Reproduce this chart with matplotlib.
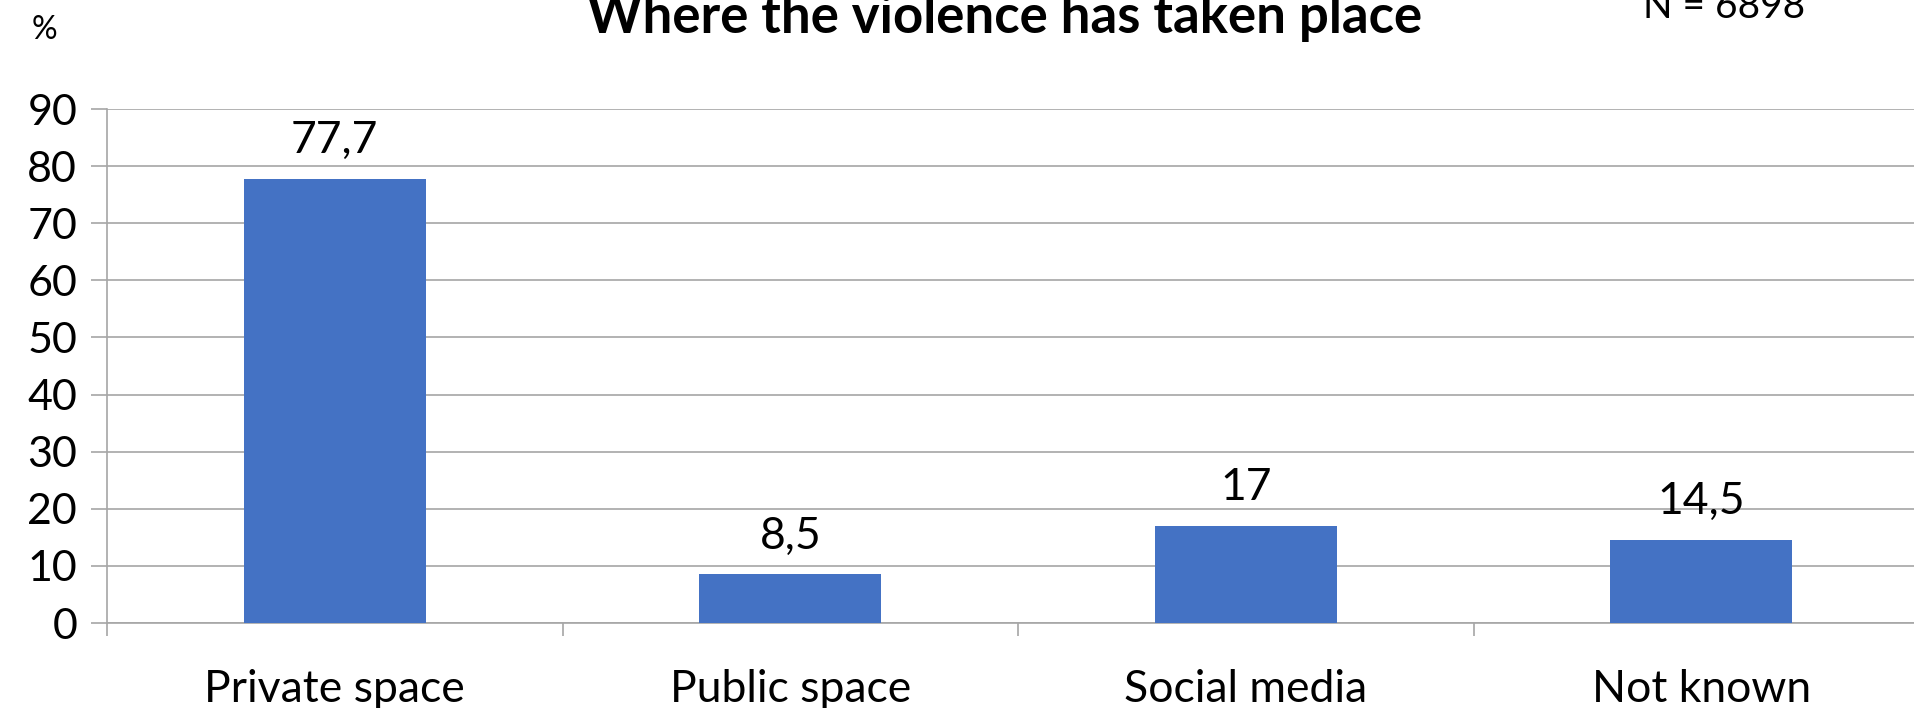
import matplotlib.pyplot as plt
import numpy as np

categories = ['Private space', 'Public space', 'Social media', 'Not known']
values = [77.7, 8.5, 17, 14.5]
value_labels = ['77,7', '8,5', '17', '14,5']
yticks = [0, 10, 20, 30, 40, 50, 60, 70, 80, 90]

plt.rcParams['font.family'] = ['Lato', 'DejaVu Sans']
grid_col = '#A6A6A6'

fig = plt.figure(figsize=(19.14, 7.08), dpi=100)
ax = fig.add_axes([0.0559, 0.12, 0.952, 0.726])

x = np.arange(len(categories))
ax.bar(x, values, width=0.4, color='#4472C4', zorder=3)
for xi, v, lab in zip(x, values, value_labels):
    ax.annotate(lab, (xi, v), xytext=(0, 13), textcoords='offset points',
                ha='center', va='bottom', fontsize=32)

ax.set_xlim(-0.5, len(categories) - 0.5)
ax.set_ylim(0, 90)
ax.set_yticks(yticks)
ax.tick_params(axis='y', labelsize=31, length=11.5, width=1.2, color=grid_col, pad=10)
ax.set_xticks(x)
ax.set_xticklabels(categories)
ax.tick_params(axis='x', which='major', labelsize=32, length=0, pad=33)
ax.set_xticks(np.arange(len(categories) + 1) - 0.5, minor=True)
ax.tick_params(axis='x', which='minor', length=9, width=1.2, color=grid_col)

ax.grid(axis='y', color=grid_col, linewidth=1.2, zorder=0)
for s in ['top', 'right']:
    ax.spines[s].set_visible(False)
for s in ['left', 'bottom']:
    ax.spines[s].set_color(grid_col)
    ax.spines[s].set_linewidth(1.2)

# the source image is cropped at the top, so the title and N are partly cut
fig.text(0.525, 0.975, 'Where the violence has taken place', ha='center', va='center',
         fontsize=38, fontweight='bold')
fig.text(0.023, 0.958, '%', ha='center', va='center', fontsize=23)
fig.text(0.9008, 0.99, 'N = 6898', ha='center', va='center', fontsize=28)

fig.savefig('out.png', dpi=100)
